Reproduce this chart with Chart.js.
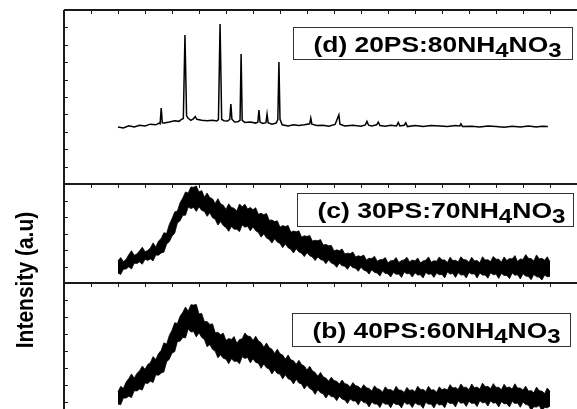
<!DOCTYPE html>
<html>
<head>
<meta charset="utf-8">
<title>XRD PS:NH4NO3</title>
<script src="https://cdn.jsdelivr.net/npm/chart.js@4.4.1/dist/chart.umd.min.js"></script>
<style>
  html, body { margin: 0; padding: 0; background: #fff; width: 577px; height: 409px; overflow: hidden; }
  #wrap { position: relative; width: 577px; height: 460px; }
</style>
</head>
<body>
<div id="wrap"><canvas id="xrd"></canvas></div>
<script>
// 2-theta grid (half-degree) for the two amorphous patterns (c) and (b)
const angles = [
  10, 10.5, 11, 11.5, 12, 12.5, 13, 13.5, 14, 14.5, 15, 15.5, 16, 16.5, 17, 17.5, 18, 18.5, 19, 19.5,
  20, 20.5, 21, 21.5, 22, 22.5, 23, 23.5, 24, 24.5, 25, 25.5, 26, 26.5, 27, 27.5, 28, 28.5, 29, 29.5,
  30, 30.5, 31, 31.5, 32, 32.5, 33, 33.5, 34, 34.5, 35, 35.5, 36, 36.5, 37, 37.5, 38, 38.5, 39, 39.5,
  40, 40.5, 41, 41.5, 42, 42.5, 43, 43.5, 44, 44.5, 45, 45.5, 46, 46.5, 47, 47.5, 48, 48.5, 49, 49.5,
  50, 50.5, 51, 51.5, 52, 52.5, 53, 53.5, 54, 54.5, 55, 55.5, 56, 56.5, 57, 57.5, 58, 58.5, 59, 59.5,
  60, 60.5, 61, 61.5, 62, 62.5, 63, 63.5, 64, 64.5, 65, 65.5, 66, 66.5, 67, 67.5, 68, 68.5, 69, 69.5,
  70, 70.5, 71, 71.5, 72, 72.5, 73, 73.5, 74, 74.5, 75, 75.5, 76, 76.5, 77, 77.5, 78, 78.5, 79, 79.5,
  80, 80.5, 81, 81.5, 82, 82.5, 83, 83.5, 84, 84.5, 85, 85.5, 86, 86.5, 87, 87.5, 88, 88.5, 89, 89.5,
  90];

// (c) 30PS:70NH4NO3 - upper / lower edge of the noisy trace
const cUpper = [
  135, 154, 130, 143, 172, 196, 168, 176, 196, 217, 190, 197, 212, 243, 218, 254, 270, 305, 300, 355,
  390, 431, 436, 487, 515, 552, 545, 582, 580, 588, 552, 560, 520, 545, 518, 510, 482, 511, 480, 471,
  446, 480, 458, 453, 436, 479, 462, 477, 448, 458, 444, 456, 416, 423, 414, 421, 380, 382, 372, 377,
  338, 348, 342, 349, 308, 315, 310, 316, 278, 286, 282, 288, 254, 259, 256, 263, 230, 234, 226, 228,
  194, 201, 196, 206, 176, 181, 178, 188, 158, 165, 160, 170, 140, 150, 148, 162, 132, 141, 142, 154,
  122, 135, 136, 154, 124, 136, 140, 156, 128, 139, 134, 152, 122, 134, 138, 158, 126, 135, 132, 158,
  140, 140, 124, 156, 136, 138, 128, 159, 142, 140, 126, 156, 134, 136, 122, 159, 140, 141, 130, 161,
  144, 144, 128, 158, 136, 149, 146, 166, 130, 146, 142, 172, 150, 148, 134, 170, 146, 150, 138, 159,
  128];
const cLower = [
  60, 52, 84, 85, 98, 85, 120, 118, 128, 114, 144, 137, 146, 134, 170, 168, 182, 187, 236, 250,
  284, 302, 364, 377, 410, 411, 460, 451, 458, 434, 462, 440, 434, 404, 426, 396, 386, 351, 372, 348,
  336, 313, 342, 326, 326, 311, 352, 338, 344, 316, 340, 317, 306, 278, 298, 273, 264, 242, 268, 248,
  240, 214, 236, 214, 204, 182, 208, 188, 180, 160, 184, 165, 158, 136, 158, 142, 138, 117, 140, 121,
  114, 95, 120, 105, 102, 83, 108, 93, 90, 71, 96, 78, 72, 54, 80, 64, 60, 42, 72, 58,
  56, 36, 64, 53, 54, 34, 66, 56, 58, 36, 62, 48, 50, 31, 64, 52, 56, 34, 60, 50,
  52, 31, 66, 54, 58, 34, 62, 48, 50, 31, 64, 54, 56, 30, 60, 48, 48, 29, 62, 50,
  54, 28, 58, 46, 46, 27, 60, 47, 50, 25, 56, 42, 40, 20, 52, 38, 36, 18, 48, 38,
  40];

// (b) 40PS:60NH4NO3
const bUpper = [
  260, 292, 280, 317, 338, 365, 340, 368, 384, 412, 392, 420, 432, 467, 450, 485, 504, 548, 540, 591,
  622, 666, 662, 705, 728, 759, 734, 772, 770, 774, 718, 721, 672, 674, 656, 660, 608, 610, 596, 605,
  562, 573, 568, 585, 546, 567, 572, 606, 588, 585, 562, 587, 560, 549, 522, 547, 520, 511, 486, 511,
  484, 476, 452, 476, 448, 443, 422, 445, 420, 412, 388, 410, 384, 374, 352, 374, 348, 341, 322, 346,
  326, 322, 306, 329, 308, 304, 288, 314, 296, 292, 276, 302, 284, 280, 264, 295, 278, 274, 258, 289,
  272, 273, 262, 292, 270, 269, 256, 286, 268, 272, 260, 293, 274, 274, 262, 292, 270, 272, 258, 289,
  272, 279, 270, 302, 282, 286, 274, 306, 286, 287, 272, 306, 284, 288, 276, 311, 290, 292, 278, 308,
  286, 287, 272, 304, 284, 288, 276, 307, 282, 282, 270, 293, 264, 267, 254, 288, 266, 264, 250, 282,
  262];
const bLower = [
  188, 184, 224, 223, 234, 226, 266, 265, 276, 270, 312, 309, 322, 315, 360, 357, 370, 377, 436, 452,
  488, 496, 556, 558, 580, 577, 630, 612, 614, 583, 608, 580, 568, 525, 538, 510, 498, 460, 478, 457,
  452, 425, 454, 439, 440, 425, 466, 456, 462, 430, 454, 433, 428, 398, 424, 401, 394, 365, 388, 368,
  364, 336, 360, 337, 330, 306, 334, 312, 306, 277, 300, 279, 270, 245, 272, 254, 248, 223, 246, 232,
  230, 208, 234, 217, 212, 191, 218, 206, 206, 183, 212, 197, 194, 171, 200, 188, 188, 167, 198, 187,
  188, 166, 196, 185, 186, 165, 200, 187, 190, 167, 196, 184, 184, 163, 198, 187, 188, 165, 194, 182,
  186, 166, 202, 191, 192, 171, 206, 193, 196, 174, 204, 191, 194, 173, 208, 195, 198, 176, 206, 193,
  196, 171, 202, 190, 190, 171, 204, 191, 194, 169, 200, 185, 182, 151, 172, 170, 180, 148, 168, 166,
  176];

// (d) 20PS:80NH4NO3 - crystalline, sharp reflections
const dAngle = [
  10.0, 11.0, 12.0, 13.0, 14.0, 15.0, 16.0, 17.0, 17.6, 17.8, 18.0, 18.2, 18.6, 19.5, 20.5, 21.3, 21.8, 22.1, 22.4, 22.7,
  23.0, 23.5, 24.0, 24.3, 24.6, 25.5, 26.5, 27.5, 28.3, 28.6, 28.9, 29.2, 29.6, 30.3, 30.7, 30.9, 31.1, 31.6, 32.2, 32.6,
  32.8, 33.0, 33.5, 34.5, 35.5, 35.9, 36.1, 36.3, 36.8, 37.4, 37.6, 37.8, 38.5, 39.3, 39.6, 39.8, 40.0, 40.4, 41.5, 42.5,
  43.5, 44.5, 45.5, 45.7, 45.9, 46.8, 48.0, 49.0, 50.2, 50.9, 51.1, 52.0, 53.5, 55.0, 55.8, 56.1, 56.4, 57.0, 57.9, 58.2,
  58.5, 59.5, 60.5, 61.6, 61.9, 62.2, 63.0, 63.3, 63.6, 65.0, 66.5, 68.0, 69.6, 71.0, 72.5, 73.3, 73.5, 73.8, 75.5, 77.0,
  78.5, 80.0, 81.5, 83.0, 84.5, 86.0, 87.5, 88.5, 89.6];
const dIntensity = [
  328, 322, 334, 328, 338, 334, 344, 340, 350, 346, 437, 352, 350, 356, 364, 360, 372, 376, 856, 392,
  378, 366, 376, 388, 372, 366, 364, 366, 362, 370, 920, 372, 364, 362, 372, 460, 372, 356, 358, 366,
  747, 366, 354, 356, 350, 356, 425, 356, 348, 352, 402, 352, 344, 350, 370, 701, 372, 340, 334, 340,
  336, 340, 346, 379, 344, 336, 338, 332, 342, 397, 344, 334, 338, 332, 340, 360, 338, 334, 340, 356,
  336, 332, 338, 334, 354, 334, 338, 352, 330, 336, 330, 336, 334, 330, 336, 334, 346, 330, 332, 328,
  334, 330, 326, 332, 328, 334, 328, 332, 330];

// panel labels, "_" marks a subscript digit
const panelLabels = ["(d) 20PS:80NH_4NO_3", "(c) 30PS:70NH_4NO_3", "(b) 40PS:60NH_4NO_3"];
const yTitle = "Intensity (a.u)";

// label box placement per panel (offset from panel top / chart right)
const boxLayout = [
  { top: 17, right: 5, w: 279, h: 32 },
  { top: 9, right: 4, w: 276, h: 33 },
  { top: 30, right: 7, w: 278, h: 33 }
];

function drawLabel(ctx, text, x, baseline, targetW) {
  const parts = [];
  let buf = "";
  for (let i = 0; i < text.length; i++) {
    if (text[i] === "_") { if (buf) parts.push([buf, false]); buf = ""; parts.push([text[i + 1], true]); i++; }
    else buf += text[i];
  }
  if (buf) parts.push([buf, false]);
  const big = "bold 22px 'Liberation Sans', Arial, sans-serif";
  const small = "bold 20px 'Liberation Sans', Arial, sans-serif";
  let w = 0;
  parts.forEach(p => { ctx.font = p[1] ? small : big; w += ctx.measureText(p[0]).width; });
  const sx = targetW / w;
  ctx.save();
  ctx.translate(x, baseline);
  ctx.scale(sx, 1);
  ctx.fillStyle = "#000";
  ctx.textBaseline = "alphabetic";
  let cx = 0;
  parts.forEach(p => {
    ctx.font = p[1] ? small : big;
    ctx.fillText(p[0], cx, p[1] ? 5 : 0);
    cx += ctx.measureText(p[0]).width;
  });
  ctx.restore();
}

const panelFrame = {
  id: "panelFrame",
  afterDraw(chart) {
    const { ctx, chartArea: a, scales } = chart;
    const x = scales.x;
    const panels = [scales.yd, scales.yc, scales.yb];
    ctx.save();
    ctx.strokeStyle = "#1a1a1a";

    // tick marks (inward)
    ctx.lineWidth = 1;
    ctx.beginPath();
    panels.forEach(s => {
      for (let v = 5; v < x.max; v += 5) {
        const px = Math.round(x.getPixelForValue(v)) + 0.5;
        ctx.moveTo(px, s.top);
        ctx.lineTo(px, s.top + 4);
      }
      s.ticks.forEach(t => {
        const py = Math.round(s.getPixelForValue(t.value)) + 0.5;
        ctx.moveTo(a.left, py);
        ctx.lineTo(a.left + 4, py);
      });
    });
    ctx.stroke();

    // frame: left axis, top border, panel dividers
    ctx.lineWidth = 2;
    ctx.beginPath();
    ctx.moveTo(a.left, a.top);
    ctx.lineTo(a.left, a.bottom);
    panels.forEach(s => {
      ctx.moveTo(a.left, Math.round(s.top));
      ctx.lineTo(a.right, Math.round(s.top));
    });
    ctx.stroke();

    // sample label boxes
    ctx.lineWidth = 1;
    ctx.strokeStyle = "#333";
    panels.forEach((s, i) => {
      const b = boxLayout[i];
      const bx = Math.round(a.right - b.right - b.w) + 0.5;
      const by = Math.round(s.top + b.top) + 0.5;
      ctx.fillStyle = "#fff";
      ctx.fillRect(bx, by, b.w, b.h);
      ctx.strokeRect(bx, by, b.w, b.h);
      drawLabel(ctx, panelLabels[i], bx + 20, by + 24, 248);
    });

    // y axis title
    ctx.save();
    ctx.translate(a.left - 37, a.top + 270);
    ctx.rotate(-Math.PI / 2);
    ctx.scale(1, 1.1);
    ctx.font = "bold 21px 'Liberation Sans', Arial, sans-serif";
    ctx.fillStyle = "#000";
    ctx.textAlign = "center";
    ctx.textBaseline = "middle";
    ctx.fillText(yTitle, 0, 0);
    ctx.restore();

    ctx.restore();
  }
};

const toXY = (xs, ys) => xs.map((v, i) => ({ x: v, y: ys[i] }));

const hiddenY = (w, max) => ({
  type: "linear", stack: "xrd", stackWeight: w, position: "left",
  min: 0, max: max,
  ticks: { display: false, stepSize: 100 },
  grid: { display: false },
  border: { display: false },
  afterFit: s => { s.width = 0; }
});

new Chart(document.getElementById("xrd"), {
  type: "line",
  data: {
    datasets: [
      { label: "(d)", yAxisID: "yd", data: toXY(dAngle, dIntensity),
        borderColor: "#000", borderWidth: 1.5, pointRadius: 0, fill: false },
      { label: "(c) upper", yAxisID: "yc", data: toXY(angles, cUpper),
        borderColor: "#000", borderWidth: 0.8, pointRadius: 0, fill: false },
      { label: "(c) lower", yAxisID: "yc", data: toXY(angles, cLower),
        borderColor: "#000", borderWidth: 0.8, pointRadius: 0, fill: "-1", backgroundColor: "#000" },
      { label: "(b) upper", yAxisID: "yb", data: toXY(angles, bUpper),
        borderColor: "#000", borderWidth: 0.8, pointRadius: 0, fill: false },
      { label: "(b) lower", yAxisID: "yb", data: toXY(angles, bLower),
        borderColor: "#000", borderWidth: 0.8, pointRadius: 0, fill: "-1", backgroundColor: "#000" }
    ]
  },
  options: {
    responsive: true,
    maintainAspectRatio: false,
    animation: false,
    parsing: false,
    layout: { padding: { left: 64, top: 10, right: 0, bottom: 24 } },
    scales: {
      x: { type: "linear", min: 0, max: 95, display: false },
      yb: hiddenY(153, 900),
      yc: hiddenY(99, 600),
      yd: hiddenY(174, 1000)
    },
    plugins: { legend: { display: false }, tooltip: { enabled: false } }
  },
  plugins: [panelFrame]
});
</script>
</body>
</html>
